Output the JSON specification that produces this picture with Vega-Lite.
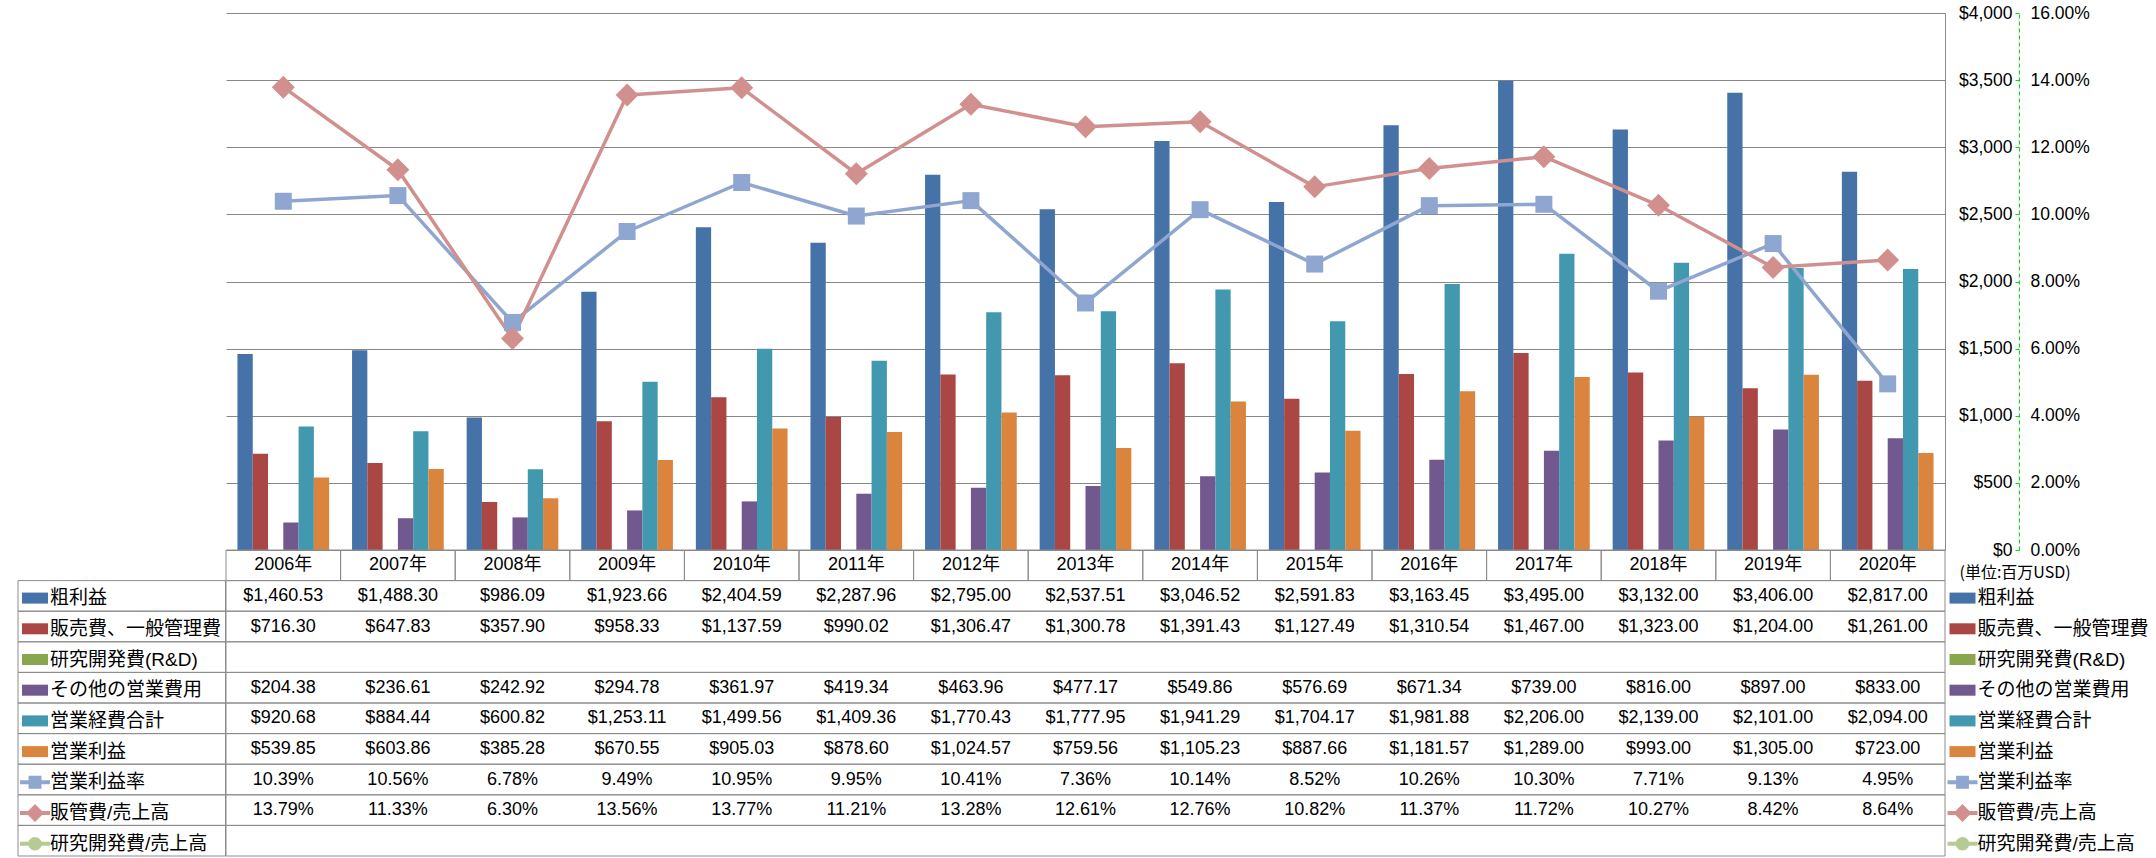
{
  "$schema": "https://vega.github.io/schema/vega-lite/v6.json",
  "background": "white",
  "padding": {"left": 17, "top": 4, "right": 0, "bottom": 0},
  "autosize": {"type": "pad"},
  "columns": 2,
  "spacing": 0,
  "bounds": "flush",
  "align": "each",
  "resolve": {"scale": {"color": "independent"}, "legend": {"color": "independent"}},
  "config": {
    "view": {"stroke": null},
    "font": "'Liberation Sans', 'Noto Sans CJK JP', sans-serif",
    "axis": {"labelFont": "'Liberation Sans', 'Noto Sans CJK JP', sans-serif", "labelColor": "#000000", "labelFontSize": 17.5},
    "legend": {
      "orient": "none", "title": null, "padding": 0, "direction": "vertical", "columns": 1,
      "labelFont": "'Liberation Sans', 'Noto Sans CJK JP', sans-serif", "labelFontSize": 19, "labelColor": "#000000",
      "labelLimit": 400, "labelOffset": 0, "rowPadding": 5.7, "symbolSize": 900, "symbolStrokeWidth": 0, "symbolOpacity": 1
    }
  },
  "datasets": {
    "fin": [
      {"year": "2006年", "series": "粗利益", "value": 1460.53},
      {"year": "2007年", "series": "粗利益", "value": 1488.30},
      {"year": "2008年", "series": "粗利益", "value": 986.09},
      {"year": "2009年", "series": "粗利益", "value": 1923.66},
      {"year": "2010年", "series": "粗利益", "value": 2404.59},
      {"year": "2011年", "series": "粗利益", "value": 2287.96},
      {"year": "2012年", "series": "粗利益", "value": 2795.00},
      {"year": "2013年", "series": "粗利益", "value": 2537.51},
      {"year": "2014年", "series": "粗利益", "value": 3046.52},
      {"year": "2015年", "series": "粗利益", "value": 2591.83},
      {"year": "2016年", "series": "粗利益", "value": 3163.45},
      {"year": "2017年", "series": "粗利益", "value": 3495.00},
      {"year": "2018年", "series": "粗利益", "value": 3132.00},
      {"year": "2019年", "series": "粗利益", "value": 3406.00},
      {"year": "2020年", "series": "粗利益", "value": 2817.00},
      {"year": "2006年", "series": "販売費、一般管理費", "value": 716.30},
      {"year": "2007年", "series": "販売費、一般管理費", "value": 647.83},
      {"year": "2008年", "series": "販売費、一般管理費", "value": 357.90},
      {"year": "2009年", "series": "販売費、一般管理費", "value": 958.33},
      {"year": "2010年", "series": "販売費、一般管理費", "value": 1137.59},
      {"year": "2011年", "series": "販売費、一般管理費", "value": 990.02},
      {"year": "2012年", "series": "販売費、一般管理費", "value": 1306.47},
      {"year": "2013年", "series": "販売費、一般管理費", "value": 1300.78},
      {"year": "2014年", "series": "販売費、一般管理費", "value": 1391.43},
      {"year": "2015年", "series": "販売費、一般管理費", "value": 1127.49},
      {"year": "2016年", "series": "販売費、一般管理費", "value": 1310.54},
      {"year": "2017年", "series": "販売費、一般管理費", "value": 1467.00},
      {"year": "2018年", "series": "販売費、一般管理費", "value": 1323.00},
      {"year": "2019年", "series": "販売費、一般管理費", "value": 1204.00},
      {"year": "2020年", "series": "販売費、一般管理費", "value": 1261.00},
      {"year": "2006年", "series": "その他の営業費用", "value": 204.38},
      {"year": "2007年", "series": "その他の営業費用", "value": 236.61},
      {"year": "2008年", "series": "その他の営業費用", "value": 242.92},
      {"year": "2009年", "series": "その他の営業費用", "value": 294.78},
      {"year": "2010年", "series": "その他の営業費用", "value": 361.97},
      {"year": "2011年", "series": "その他の営業費用", "value": 419.34},
      {"year": "2012年", "series": "その他の営業費用", "value": 463.96},
      {"year": "2013年", "series": "その他の営業費用", "value": 477.17},
      {"year": "2014年", "series": "その他の営業費用", "value": 549.86},
      {"year": "2015年", "series": "その他の営業費用", "value": 576.69},
      {"year": "2016年", "series": "その他の営業費用", "value": 671.34},
      {"year": "2017年", "series": "その他の営業費用", "value": 739.00},
      {"year": "2018年", "series": "その他の営業費用", "value": 816.00},
      {"year": "2019年", "series": "その他の営業費用", "value": 897.00},
      {"year": "2020年", "series": "その他の営業費用", "value": 833.00},
      {"year": "2006年", "series": "営業経費合計", "value": 920.68},
      {"year": "2007年", "series": "営業経費合計", "value": 884.44},
      {"year": "2008年", "series": "営業経費合計", "value": 600.82},
      {"year": "2009年", "series": "営業経費合計", "value": 1253.11},
      {"year": "2010年", "series": "営業経費合計", "value": 1499.56},
      {"year": "2011年", "series": "営業経費合計", "value": 1409.36},
      {"year": "2012年", "series": "営業経費合計", "value": 1770.43},
      {"year": "2013年", "series": "営業経費合計", "value": 1777.95},
      {"year": "2014年", "series": "営業経費合計", "value": 1941.29},
      {"year": "2015年", "series": "営業経費合計", "value": 1704.17},
      {"year": "2016年", "series": "営業経費合計", "value": 1981.88},
      {"year": "2017年", "series": "営業経費合計", "value": 2206.00},
      {"year": "2018年", "series": "営業経費合計", "value": 2139.00},
      {"year": "2019年", "series": "営業経費合計", "value": 2101.00},
      {"year": "2020年", "series": "営業経費合計", "value": 2094.00},
      {"year": "2006年", "series": "営業利益", "value": 539.85},
      {"year": "2007年", "series": "営業利益", "value": 603.86},
      {"year": "2008年", "series": "営業利益", "value": 385.28},
      {"year": "2009年", "series": "営業利益", "value": 670.55},
      {"year": "2010年", "series": "営業利益", "value": 905.03},
      {"year": "2011年", "series": "営業利益", "value": 878.60},
      {"year": "2012年", "series": "営業利益", "value": 1024.57},
      {"year": "2013年", "series": "営業利益", "value": 759.56},
      {"year": "2014年", "series": "営業利益", "value": 1105.23},
      {"year": "2015年", "series": "営業利益", "value": 887.66},
      {"year": "2016年", "series": "営業利益", "value": 1181.57},
      {"year": "2017年", "series": "営業利益", "value": 1289.00},
      {"year": "2018年", "series": "営業利益", "value": 993.00},
      {"year": "2019年", "series": "営業利益", "value": 1305.00},
      {"year": "2020年", "series": "営業利益", "value": 723.00},
      {"year": "2006年", "series": "営業利益率", "value": 0.1039},
      {"year": "2007年", "series": "営業利益率", "value": 0.1056},
      {"year": "2008年", "series": "営業利益率", "value": 0.0678},
      {"year": "2009年", "series": "営業利益率", "value": 0.0949},
      {"year": "2010年", "series": "営業利益率", "value": 0.1095},
      {"year": "2011年", "series": "営業利益率", "value": 0.0995},
      {"year": "2012年", "series": "営業利益率", "value": 0.1041},
      {"year": "2013年", "series": "営業利益率", "value": 0.0736},
      {"year": "2014年", "series": "営業利益率", "value": 0.1014},
      {"year": "2015年", "series": "営業利益率", "value": 0.0852},
      {"year": "2016年", "series": "営業利益率", "value": 0.1026},
      {"year": "2017年", "series": "営業利益率", "value": 0.1030},
      {"year": "2018年", "series": "営業利益率", "value": 0.0771},
      {"year": "2019年", "series": "営業利益率", "value": 0.0913},
      {"year": "2020年", "series": "営業利益率", "value": 0.0495},
      {"year": "2006年", "series": "販管費/売上高", "value": 0.1379},
      {"year": "2007年", "series": "販管費/売上高", "value": 0.1133},
      {"year": "2008年", "series": "販管費/売上高", "value": 0.0630},
      {"year": "2009年", "series": "販管費/売上高", "value": 0.1356},
      {"year": "2010年", "series": "販管費/売上高", "value": 0.1377},
      {"year": "2011年", "series": "販管費/売上高", "value": 0.1121},
      {"year": "2012年", "series": "販管費/売上高", "value": 0.1328},
      {"year": "2013年", "series": "販管費/売上高", "value": 0.1261},
      {"year": "2014年", "series": "販管費/売上高", "value": 0.1276},
      {"year": "2015年", "series": "販管費/売上高", "value": 0.1082},
      {"year": "2016年", "series": "販管費/売上高", "value": 0.1137},
      {"year": "2017年", "series": "販管費/売上高", "value": 0.1172},
      {"year": "2018年", "series": "販管費/売上高", "value": 0.1027},
      {"year": "2019年", "series": "販管費/売上高", "value": 0.0842},
      {"year": "2020年", "series": "販管費/売上高", "value": 0.0864}
    ],
    "serieslist": [
      {"series": "粗利益"}, {"series": "販売費、一般管理費"}, {"series": "研究開発費(R&D)"},
      {"series": "その他の営業費用"}, {"series": "営業経費合計"}, {"series": "営業利益"},
      {"series": "営業利益率"}, {"series": "販管費/売上高"}, {"series": "研究開発費/売上高"}
    ]
  },
  "concat": [
    {"width": 207.5, "height": 537, "data": {"values": [{}]}, "mark": {"type": "text", "text": ""}, "encoding": {}},
    {
      "name": "main",
      "width": 1719, "height": 537,
      "resolve": {"scale": {"y": "independent"}},
      "layer": [
        {
          "data": {"name": "fin"},
          "transform": [{"filter": {"field": "series", "oneOf": ["粗利益", "販売費、一般管理費", "その他の営業費用", "営業経費合計", "営業利益"]}}],
          "mark": {"type": "bar"},
          "encoding": {
            "x": {"field": "year", "type": "nominal", "scale": {"domain": ["2006年","2007年","2008年","2009年","2010年","2011年","2012年","2013年","2014年","2015年","2016年","2017年","2018年","2019年","2020年"], "paddingInner": 0.2, "paddingOuter": 0.1}, "axis": null},
            "xOffset": {"field": "series", "type": "nominal", "scale": {"domain": ["粗利益", "販売費、一般管理費", "研究開発費(R&D)", "その他の営業費用", "営業経費合計", "営業利益"], "paddingInner": 0, "paddingOuter": 0}},
            "y": {"field": "value", "type": "quantitative", "scale": {"domain": [0, 4000], "nice": false, "zero": true},
              "axis": {"orient": "right", "values": [0, 500, 1000, 1500, 2000, 2500, 3000, 3500, 4000], "format": "$,d", "grid": true, "gridColor": "#888888", "gridWidth": 1,
                "domain": true, "domainColor": "#888888", "ticks": false, "tickSize": 0, "labelPadding": 67, "labelAlign": "right", "labelBaseline": "middle",
                "title": "(単位:百万USD)", "titleAngle": 0, "titleAlign": "left", "titleBaseline": "middle", "titleX": 14, "titleY": 559,
                "titleFont": "'Noto Sans CJK JP', sans-serif", "titleFontSize": 16, "titleFontWeight": "normal", "titleColor": "#000000"}},
            "color": {"field": "series", "type": "nominal",
              "scale": {"domain": ["粗利益", "販売費、一般管理費", "研究開発費(R&D)", "その他の営業費用", "営業経費合計", "営業利益", "営業利益率", "販管費/売上高", "研究開発費/売上高"],
                "range": ["#4572A7", "#AA4643", "#89A54E", "#71588F", "#4198AF", "#DB843D", "#8FA7D0", "#D1908E", "#B6CB93"]},
              "legend": {"legendX": 1721.5, "legendY": 570.1,
                "encode": {"symbols": {"update": {"shape": {"signal": "datum.value === '営業利益率' ? 'M-1,-0.13H1V0.13H-1Z M-0.43,-0.43H0.43V0.43H-0.43Z' : datum.value === '販管費/売上高' ? 'M-1,-0.13H1V0.13H-1Z M0,-0.6L0.6,0L0,0.6L-0.6,0Z' : datum.value === '研究開発費/売上高' ? 'M-1,-0.13H1V0.13H-1Z M-0.45,0A0.45,0.45 0 1,1 0.45,0A0.45,0.45 0 1,1 -0.45,0Z' : 'M-0.867,-0.367H0.867V0.367H-0.867Z'"}, "fill": {"signal": "scale('main_color', datum.value)"}, "strokeWidth": {"value": 0}, "opacity": {"value": 1}}}}}}
          }
        },
        {
          "data": {"name": "fin"},
          "transform": [{"filter": {"field": "series", "oneOf": ["営業利益率", "販管費/売上高"]}}],
          "encoding": {
            "x": {"field": "year", "type": "nominal", "scale": {"domain": ["2006年","2007年","2008年","2009年","2010年","2011年","2012年","2013年","2014年","2015年","2016年","2017年","2018年","2019年","2020年"], "paddingInner": 0.2, "paddingOuter": 0.1}, "axis": null},
            "y": {"field": "value", "type": "quantitative", "scale": {"domain": [0, 0.16], "nice": false},
              "axis": {"orient": "right", "offset": 74, "values": [0, 0.02, 0.04, 0.06, 0.08, 0.1, 0.12, 0.14, 0.16], "format": ".2%", "grid": false,
                "domain": true, "domainColor": "#00DD00", "domainDash": [4, 3], "domainWidth": 1, "ticks": true, "tickColor": "#00DD00", "tickSize": -4, "tickWidth": 1,
                "labelPadding": 15, "labelAlign": "left", "labelBaseline": "middle", "title": null}},
            "color": {"field": "series", "type": "nominal",
              "scale": {"domain": ["粗利益", "販売費、一般管理費", "研究開発費(R&D)", "その他の営業費用", "営業経費合計", "営業利益", "営業利益率", "販管費/売上高", "研究開発費/売上高"],
                "range": ["#4572A7", "#AA4643", "#89A54E", "#71588F", "#4198AF", "#DB843D", "#8FA7D0", "#D1908E", "#B6CB93"]}}
          },
          "layer": [
            {"mark": {"type": "line", "strokeWidth": 3.5, "strokeJoin": "round"}},
            {"transform": [{"filter": "datum.series === '営業利益率'"}], "mark": {"type": "point", "shape": "square", "filled": true, "size": 289, "opacity": 1}},
            {"transform": [{"filter": "datum.series === '販管費/売上高'"}], "mark": {"type": "point", "shape": "diamond", "filled": true, "size": 529, "opacity": 1}}
          ]
        }
      ]
    },
    {
      "name": "lcol",
      "width": 207.5, "height": 306,
      "data": {"name": "serieslist"},
      "layer": [
        {
          "mark": {"type": "rect", "fillOpacity": 0, "stroke": "#8c8c8c", "strokeWidth": 1},
          "encoding": {
            "y": {"field": "series", "type": "nominal", "scale": {"domain": ["hdr", "粗利益", "販売費、一般管理費", "研究開発費(R&D)", "その他の営業費用", "営業経費合計", "営業利益", "営業利益率", "販管費/売上高", "研究開発費/売上高"], "paddingInner": 0, "paddingOuter": 0}, "axis": null}
          }
        },
        {
          "mark": {"type": "point", "opacity": 0, "filled": true},
          "encoding": {
            "y": {"field": "series", "type": "nominal", "scale": {"domain": ["hdr", "粗利益", "販売費、一般管理費", "研究開発費(R&D)", "その他の営業費用", "営業経費合計", "営業利益", "営業利益率", "販管費/売上高", "研究開発費/売上高"], "paddingInner": 0, "paddingOuter": 0}, "axis": null},
            "color": {"field": "series", "type": "nominal",
              "scale": {"domain": ["粗利益", "販売費、一般管理費", "研究開発費(R&D)", "その他の営業費用", "営業経費合計", "営業利益", "営業利益率", "販管費/売上高", "研究開発費/売上高"],
                "range": ["#4572A7", "#AA4643", "#89A54E", "#71588F", "#4198AF", "#DB843D", "#8FA7D0", "#D1908E", "#B6CB93"]},
              "legend": {"legendX": 2, "legendY": 33.1,
                "encode": {"symbols": {"update": {"shape": {"signal": "datum.value === '営業利益率' ? 'M-1,-0.13H1V0.13H-1Z M-0.43,-0.43H0.43V0.43H-0.43Z' : datum.value === '販管費/売上高' ? 'M-1,-0.13H1V0.13H-1Z M0,-0.6L0.6,0L0,0.6L-0.6,0Z' : datum.value === '研究開発費/売上高' ? 'M-1,-0.13H1V0.13H-1Z M-0.45,0A0.45,0.45 0 1,1 0.45,0A0.45,0.45 0 1,1 -0.45,0Z' : 'M-0.867,-0.367H0.867V0.367H-0.867Z'"}, "fill": {"signal": "scale('lcol_color', datum.value)"}, "strokeWidth": {"value": 0}, "opacity": {"value": 1}}}}}}
          }
        }
      ]
    },
    {
      "name": "tbl",
      "width": 1719, "height": 306,
      "layer": [
        {
          "data": {"name": "serieslist"},
          "mark": {"type": "rect", "fillOpacity": 0, "stroke": "#8c8c8c", "strokeWidth": 1},
          "encoding": {
            "y": {"field": "series", "type": "nominal", "scale": {"domain": ["hdr", "粗利益", "販売費、一般管理費", "研究開発費(R&D)", "その他の営業費用", "営業経費合計", "営業利益", "営業利益率", "販管費/売上高", "研究開発費/売上高"], "paddingInner": 0, "paddingOuter": 0}, "axis": null}
          }
        },
        {
          "data": {"name": "fin"},
          "transform": [{"filter": {"field": "series", "equal": "粗利益"}}],
          "mark": {"type": "rect", "fillOpacity": 0, "stroke": "#8c8c8c", "strokeWidth": 1},
          "encoding": {
            "x": {"field": "year", "type": "nominal", "scale": {"domain": ["2006年","2007年","2008年","2009年","2010年","2011年","2012年","2013年","2014年","2015年","2016年","2017年","2018年","2019年","2020年"], "paddingInner": 0, "paddingOuter": 0},
              "axis": {"orient": "bottom", "grid": true, "bandPosition": 0, "gridColor": "#8c8c8c", "labels": false, "ticks": false, "domain": false, "title": null}},
            "y": {"datum": "hdr", "type": "nominal", "scale": {"domain": ["hdr", "粗利益", "販売費、一般管理費", "研究開発費(R&D)", "その他の営業費用", "営業経費合計", "営業利益", "営業利益率", "販管費/売上高", "研究開発費/売上高"], "paddingInner": 0, "paddingOuter": 0}, "axis": null}
          }
        },
        {
          "data": {"name": "fin"},
          "transform": [{"filter": {"field": "series", "oneOf": ["粗利益", "販売費、一般管理費", "その他の営業費用", "営業経費合計", "営業利益"]}}],
          "mark": {"type": "text", "fontSize": 18, "color": "#000000"},
          "encoding": {
            "x": {"field": "year", "type": "nominal", "scale": {"domain": ["2006年","2007年","2008年","2009年","2010年","2011年","2012年","2013年","2014年","2015年","2016年","2017年","2018年","2019年","2020年"], "paddingInner": 0, "paddingOuter": 0}, "axis": null},
            "y": {"field": "series", "type": "nominal", "scale": {"domain": ["hdr", "粗利益", "販売費、一般管理費", "研究開発費(R&D)", "その他の営業費用", "営業経費合計", "営業利益", "営業利益率", "販管費/売上高", "研究開発費/売上高"], "paddingInner": 0, "paddingOuter": 0}, "axis": null},
            "text": {"field": "value", "type": "quantitative", "format": "$,.2f"}
          }
        },
        {
          "data": {"name": "fin"},
          "transform": [{"filter": {"field": "series", "oneOf": ["営業利益率", "販管費/売上高"]}}],
          "mark": {"type": "text", "fontSize": 18, "color": "#000000"},
          "encoding": {
            "x": {"field": "year", "type": "nominal", "scale": {"domain": ["2006年","2007年","2008年","2009年","2010年","2011年","2012年","2013年","2014年","2015年","2016年","2017年","2018年","2019年","2020年"], "paddingInner": 0, "paddingOuter": 0}, "axis": null},
            "y": {"field": "series", "type": "nominal", "scale": {"domain": ["hdr", "粗利益", "販売費、一般管理費", "研究開発費(R&D)", "その他の営業費用", "営業経費合計", "営業利益", "営業利益率", "販管費/売上高", "研究開発費/売上高"], "paddingInner": 0, "paddingOuter": 0}, "axis": null},
            "text": {"field": "value", "type": "quantitative", "format": ".2%"}
          }
        },
        {
          "data": {"name": "fin"},
          "transform": [{"filter": {"field": "series", "equal": "粗利益"}}],
          "mark": {"type": "text", "fontSize": 18, "color": "#000000"},
          "encoding": {
            "x": {"field": "year", "type": "nominal", "scale": {"domain": ["2006年","2007年","2008年","2009年","2010年","2011年","2012年","2013年","2014年","2015年","2016年","2017年","2018年","2019年","2020年"], "paddingInner": 0, "paddingOuter": 0}, "axis": null},
            "y": {"datum": "hdr", "type": "nominal", "scale": {"domain": ["hdr", "粗利益", "販売費、一般管理費", "研究開発費(R&D)", "その他の営業費用", "営業経費合計", "営業利益", "営業利益率", "販管費/売上高", "研究開発費/売上高"], "paddingInner": 0, "paddingOuter": 0}, "axis": null},
            "text": {"field": "year", "type": "nominal"}
          }
        }
      ]
    }
  ]
}
